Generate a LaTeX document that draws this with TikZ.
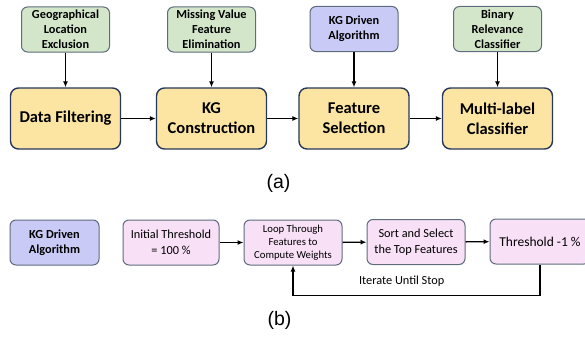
\documentclass[tikz,border=0pt]{standalone}
\usepackage{fontspec}
\setmainfont{Carlito}
\newfontfamily\panelfont{Liberation Sans}
\usetikzlibrary{arrows.meta}
\definecolor{toolgreen}{HTML}{D3E6CA}
\definecolor{stageyellow}{HTML}{FCE5A2}
\definecolor{algpurple}{HTML}{CACAF6}
\definecolor{looppink}{HTML}{F8E0F6}
\definecolor{darkrim}{HTML}{27375A}
\definecolor{softrim}{HTML}{5E6C7C}

\begin{document}
\begin{tikzpicture}[x=1pt, y=-1pt,
    toolbox/.style={draw=softrim, fill=toolgreen, line width=1pt, rounded corners=6pt,
        align=center, inner sep=0pt, minimum width=88pt, minimum height=45pt,
        font=\fontsize{12.3}{15}\selectfont\bfseries},
    algbox/.style={toolbox, fill=algpurple},
    stagebox/.style={draw=darkrim, fill=stageyellow, line width=1.4pt, rounded corners=8pt,
        align=center, inner sep=0pt, minimum width=110pt, minimum height=61pt,
        font=\fontsize{16.5}{20}\selectfont\bfseries},
    loopbox/.style={draw=softrim, fill=looppink, line width=1pt, rounded corners=6pt,
        align=center, inner sep=0pt, minimum width=97pt, minimum height=45pt,
        font=\fontsize{12.3}{15.5}\selectfont},
    link/.style={-{Latex[length=6pt,width=5pt]}, line width=1.4pt}]
    \useasboundingbox (0,0) rectangle (585,337);

    \node[toolbox] (geo) at (65.5,29.5) {Geographical\\Location\\Exclusion};
    \node[toolbox] (miss) at (211.5,29.5) {Missing Value\\Feature\\Elimination};
    \node[algbox] (kgalg) at (354,29) {KG Driven\\Algorithm};
    \node[toolbox] (brc) at (497.5,29) {Binary\\Relevance\\Classifier};

    \node[stagebox] (filt) at (65.5,118.5) {Data Filtering};
    \node[stagebox] (cons) at (211.5,118.5) {KG\\Construction};
    \node[stagebox] (fsel) at (354,118.5) {Feature\\Selection};
    \node[stagebox] (mlc) at (497.5,118.5) {Multi-label\\Classifier};

    \draw[link] (geo) -- (filt);
    \draw[link] (miss) -- (cons);
    \draw[link] (kgalg) -- (fsel);
    \draw[link] (brc) -- (mlc);
    \draw[link] (filt) -- (cons);
    \draw[link] (cons) -- (fsel);
    \draw[link] (fsel) -- (mlc);

    \node[font=\panelfont\fontsize{19.5}{22}\selectfont] (capa) at (278.5,183) {(a)};

    \node[algbox, minimum width=89pt] (kgleft) at (54.5,242.5) {KG Driven\\Algorithm};
    \node[loopbox, minimum width=96pt] (init) at (171,242.5) {Initial Threshold\\= 100 \%};
    \node[loopbox, minimum width=98pt, font=\fontsize{10.7}{13}\selectfont] (loop) at (293,242.5)
        {Loop Through\\Features to\\Compute Weights};
    \node[loopbox, minimum width=98pt] (sort) at (416,242) {Sort and Select\\the Top Features};
    \node[loopbox, minimum width=100pt, font=\fontsize{13.5}{16}\selectfont] (thr) at (540,241.5)
        {Threshold -1 \%};

    \draw[link] (init) -- (loop);
    \draw[link] (loop) -- (sort);
    \draw[link] (sort) -- (thr);
    \draw[link] (thr.south) -- ++(0,31) -| (loop.south)
        node[pos=0.28, above=5pt, font=\fontsize{12.3}{14}\selectfont] {Iterate Until Stop};

    \node[font=\panelfont\fontsize{19.5}{22}\selectfont] (capb) at (279.5,320) {(b)};
\end{tikzpicture}
\end{document}
